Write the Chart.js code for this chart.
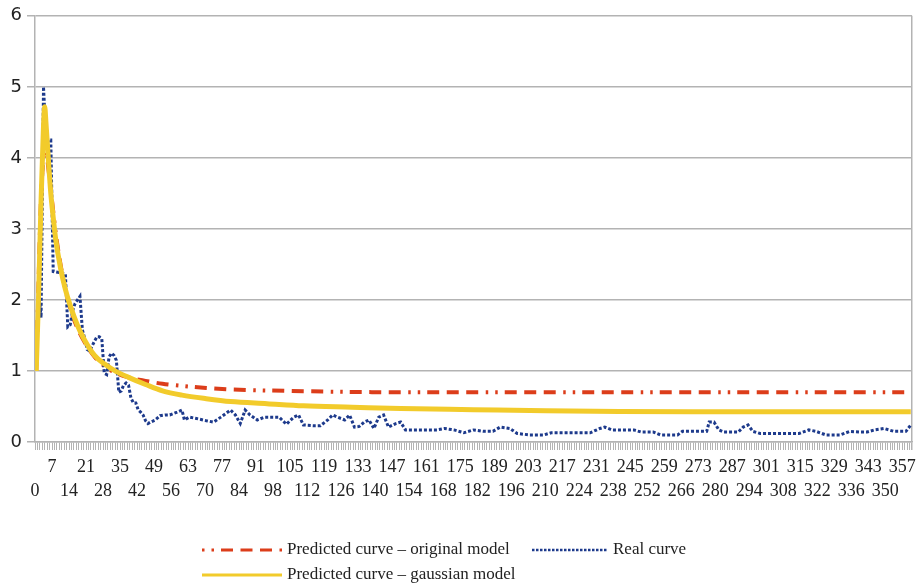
<!DOCTYPE html>
<html>
<head>
<meta charset="utf-8">
<script src="https://cdn.jsdelivr.net/npm/chart.js@4/dist/chart.umd.min.js"></script>
<style>
  html, body { margin: 0; padding: 0; background: #fff; }
  #wrap { width: 922px; height: 586px; }
</style>
</head>
<body>
<div id="wrap"><canvas id="curves"></canvas></div>
<script>
// Real curve: days where the line changes direction, and the value there
const realDays = [0, 1, 2, 3, 4, 5, 6, 7, 12, 13, 14, 15, 16, 17, 18, 19, 20, 21, 22, 23, 24, 25, 26, 27, 28, 29, 30, 31, 32, 33, 34, 35, 36, 37, 38, 39, 40, 41, 42, 43, 44, 45, 46, 47,
  49, 51, 53, 55, 58, 60, 61, 63, 66, 70, 73, 76, 80, 82, 84, 86, 88, 91, 94, 97, 100, 103, 106, 108, 110, 114, 117, 120, 122, 124, 127, 129, 131, 133, 135, 137, 139,
  141, 143, 145, 148, 150, 152, 156, 160, 165, 168, 172, 176, 180, 184, 188, 191, 195, 198, 203, 209, 212, 220, 228, 232, 234, 237, 241, 246, 249, 254, 257, 264,
  266, 276, 277, 279, 281, 283, 289, 291, 293, 295, 298, 314, 318, 321, 325, 331, 335, 339, 342, 345, 349, 353, 358, 360];
const realValues = [1.0, 2.1, 1.75, 5.0, 4.3, 4.25, 4.25, 2.4, 2.37, 1.62, 1.65, 1.85, 1.95, 2.0, 2.05, 1.58, 1.45, 1.3, 1.28, 1.35, 1.42, 1.48, 1.48, 1.45, 0.97, 0.95, 1.2, 1.25, 1.22, 1.15, 0.7, 0.72, 0.8, 0.83, 0.8, 0.62, 0.55, 0.55, 0.45, 0.42, 0.38, 0.3, 0.26, 0.28,
  0.31, 0.37, 0.38, 0.38, 0.42, 0.45, 0.31, 0.35, 0.33, 0.3, 0.28, 0.35, 0.45, 0.38, 0.26, 0.45, 0.38, 0.31, 0.35, 0.35, 0.35, 0.25, 0.35, 0.38, 0.24, 0.23, 0.23, 0.31, 0.38, 0.35, 0.31, 0.38, 0.21, 0.22, 0.28, 0.31, 0.19,
  0.35, 0.38, 0.21, 0.26, 0.28, 0.17, 0.17, 0.17, 0.17, 0.19, 0.17, 0.13, 0.17, 0.15, 0.15, 0.21, 0.19, 0.12, 0.1, 0.1, 0.13, 0.13, 0.13, 0.19, 0.21, 0.17, 0.17, 0.17, 0.14, 0.14, 0.1, 0.1,
  0.15, 0.15, 0.28, 0.28, 0.17, 0.14, 0.14, 0.21, 0.24, 0.15, 0.12, 0.12, 0.17, 0.15, 0.1, 0.1, 0.15, 0.14, 0.14, 0.17, 0.19, 0.15, 0.15, 0.24];

// Model curves, read at these days
const modelDays = [0, 1, 2, 3, 3.5, 4, 5, 6, 7, 8, 10, 12, 14, 17, 20, 24, 28, 33, 38, 45, 52, 60, 70, 80, 95, 110, 130, 150, 180, 210, 240, 270, 300, 330, 360];
const originalValues = [1.0, 2.3, 3.45, 4.0, 4.06, 4.1, 3.85, 3.55, 3.25, 2.95, 2.5, 2.15, 1.88, 1.6, 1.4, 1.2, 1.07, 0.97, 0.91, 0.86, 0.82, 0.79, 0.76, 0.74, 0.725, 0.715, 0.705, 0.7, 0.7, 0.7, 0.7, 0.7, 0.7, 0.7, 0.7];
const gaussianValues = [1.0, 2.1, 3.4, 4.45, 4.72, 4.5, 3.98, 3.5, 3.16, 2.86, 2.45, 2.15, 1.92, 1.64, 1.43, 1.22, 1.1, 0.99, 0.91, 0.81, 0.72, 0.66, 0.61, 0.57, 0.54, 0.51, 0.49, 0.47, 0.455, 0.44, 0.43, 0.425, 0.425, 0.425, 0.425];

const seriesNames = ['Predicted curve \u2013 original model', 'Real curve', 'Predicted curve \u2013 gaussian model'];
const yTicks = [0, 1, 2, 3, 4, 5, 6];
// x labels, staggered on two rows like the original
const xLabelsTop = [7, 21, 35, 49, 63, 77, 91, 105, 119, 133, 147, 161, 175, 189, 203, 217, 231, 245, 259, 273, 287, 301, 315, 329, 343, 357];
const xLabelsBottom = [0, 14, 28, 42, 56, 70, 84, 98, 112, 126, 140, 154, 168, 182, 196, 210, 224, 238, 252, 266, 280, 294, 308, 322, 336, 350];

const RED = '#dc3d1a';
const BLUE = '#1d3a8c';
const YELLOW = '#f2cb2b';
const GRID = '#b3b3b3';
const redDash = [12, 7.5, 12, 7.5, 12, 7.5, 2.5, 7, 2.5, 7];
const blueDash = [3, 2];

function pairs(xs, ys) {
  return xs.map((x, i) => ({ x: x, y: ys[i] }));
}

// legend drawn by hand so the second row lines up on the left like the original
const legendPlugin = {
  id: 'sideLegend',
  afterDraw(chart) {
    const ctx = chart.ctx;
    ctx.save();
    ctx.font = '17px "Liberation Serif"';
    ctx.fillStyle = '#222';
    ctx.textBaseline = 'middle';
    ctx.lineCap = 'butt';

    function sample(x1, x2, y, color, width, dash, offset) {
      ctx.beginPath();
      ctx.strokeStyle = color;
      ctx.lineWidth = width;
      ctx.setLineDash(dash);
      ctx.lineDashOffset = offset || 0;
      ctx.moveTo(x1, y);
      ctx.lineTo(x2, y);
      ctx.stroke();
    }

    sample(202, 282, 550, RED, 3, redDash, 58.5);
    ctx.fillText(seriesNames[0], 287, 550);
    sample(532, 608, 550, BLUE, 2.5, [2.5, 1.5]);
    ctx.fillText(seriesNames[1], 613, 550);
    sample(202, 282, 575, YELLOW, 3, []);
    ctx.fillText(seriesNames[2], 287, 575);
    ctx.restore();
  }
};

const ctx = document.getElementById('curves').getContext('2d');
const chart = new Chart(ctx, {
  type: 'line',
  data: {
    datasets: [
      {
        label: seriesNames[2],
        data: pairs(modelDays, gaussianValues),
        borderColor: YELLOW,
        borderWidth: 5,
        cubicInterpolationMode: 'monotone',
        pointRadius: 0
      },
      {
        label: seriesNames[1],
        data: pairs(realDays, realValues),
        borderColor: BLUE,
        borderWidth: 3,
        borderDash: blueDash,
        tension: 0,
        pointRadius: 0
      },
      {
        label: seriesNames[0],
        data: pairs(modelDays, originalValues),
        borderColor: RED,
        borderWidth: 4,
        borderDash: redDash,
        cubicInterpolationMode: 'monotone',
        pointRadius: 0
      }
    ]
  },
  plugins: [legendPlugin],
  options: {
    responsive: true,
    maintainAspectRatio: false,
    animation: false,
    layout: { padding: { top: 14, right: 10, bottom: 0, left: 0 } },
    plugins: {
      legend: { display: false },
      tooltip: { enabled: false }
    },
    scales: {
      x: {
        type: 'linear',
        min: -0.5,
        max: 360.5,
        afterFit: (scale) => { scale.height = 144; },
        border: { display: true, color: GRID, width: 1.5 },
        grid: {
          drawOnChartArea: true,
          color: (c) => (c.tick && c.tick.value === 360.5 ? GRID : 'rgba(0,0,0,0)'),
          tickColor: GRID,
          tickLength: 8,
          lineWidth: (c) => (c.tick && c.tick.value === 360.5 ? 1.5 : 1)
        },
        ticks: {
          stepSize: 1,
          autoSkip: false,
          maxRotation: 0,
          minRotation: 0,
          padding: 5,
          color: '#222',
          font: { family: '"Liberation Serif"', size: 18, lineHeight: 1.33 },
          // ticks sit on category edges (x.5); label the one just left of each day
          callback: (value) => {
            const day = Math.round(value + 0.5);
            if (xLabelsTop.includes(day)) return [String(day), ''];
            if (xLabelsBottom.includes(day)) return ['', String(day)];
            return '';
          }
        }
      },
      y: {
        min: 0,
        max: 6,
        afterFit: (scale) => { scale.width = 35; },
        afterBuildTicks: (scale) => { scale.ticks = yTicks.map(v => ({ value: v })); },
        border: { display: true, color: GRID, width: 1.5 },
        grid: { color: GRID, lineWidth: 1.5, tickLength: 8 },
        ticks: {
          padding: 5,
          color: '#222',
          font: { family: '"DejaVu Sans"', size: 18 }
        }
      }
    }
  }
});
</script>
</body>
</html>
